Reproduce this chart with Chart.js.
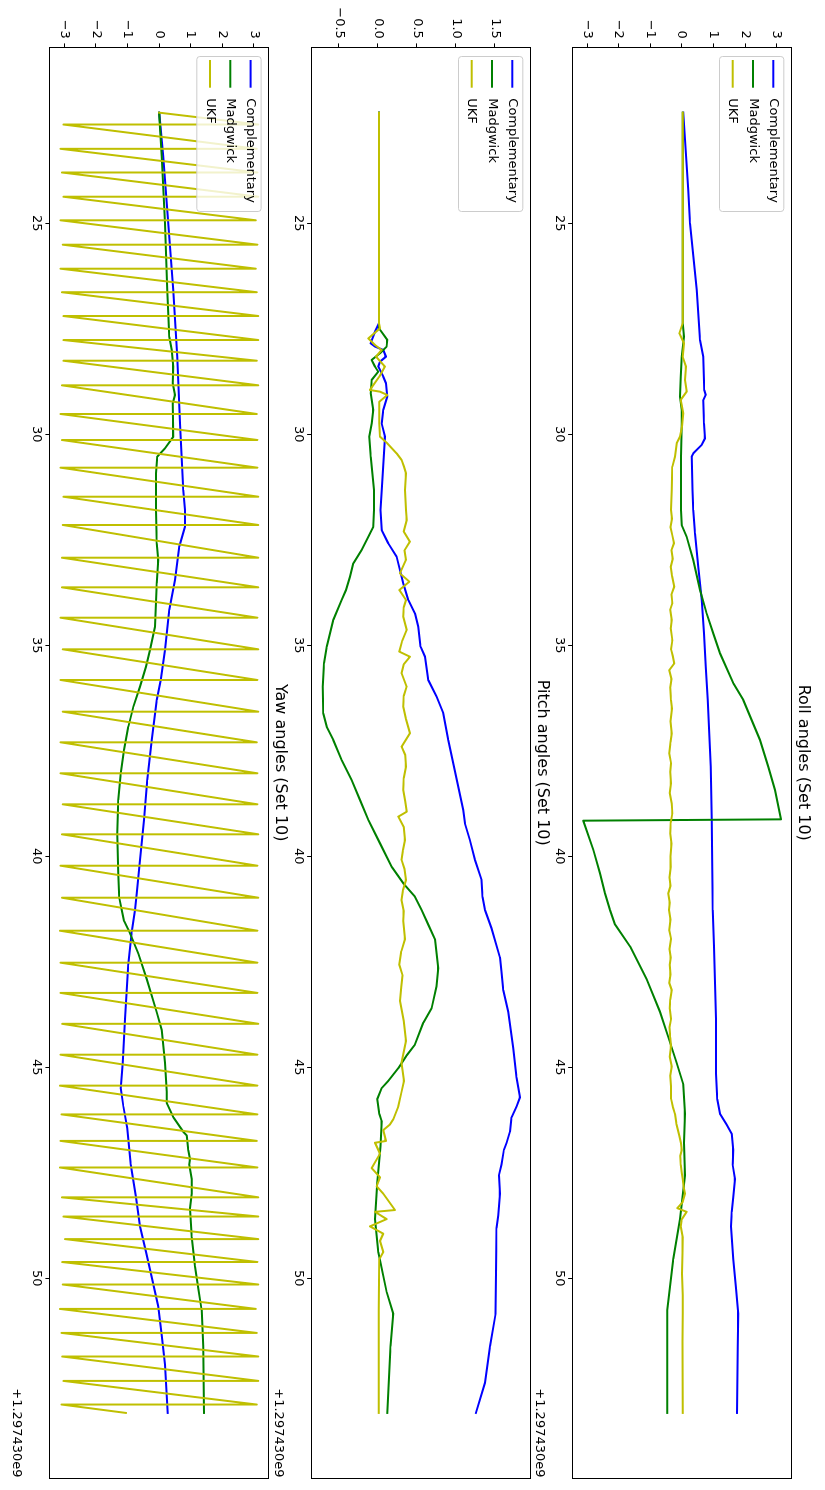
<!DOCTYPE html>
<html>
<head>
<meta charset="utf-8">
<title>Roll / Pitch / Yaw angles (Set 10)</title>
<script src="https://cdn.jsdelivr.net/npm/chart.js@4.4.1/dist/chart.umd.min.js"></script>
<style>
  html, body { margin: 0; padding: 0; background: #fff; }
  body { width: 825px; height: 1490px; overflow: hidden; position: relative; }
  /* the figure is laid out landscape and turned a quarter turn clockwise */
  #fig {
    position: absolute; left: 0; top: 0;
    width: 1490px; height: 825px;
    transform-origin: 0 0;
    transform: translate(825px, 0) rotate(90deg);
    background: #fff;
  }
  #fig canvas { position: absolute; left: 0; }
</style>
</head>
<body>
<div id="fig">
  <canvas id="roll"></canvas>
  <canvas id="pitch"></canvas>
  <canvas id="yaw"></canvas>
</div>
<script>
// ---------------- data (time in s, relative to 1.297430e9) ----------------
const seriesNames = ['Complementary', 'Madgwick', 'UKF'];
const xTicks = [25, 30, 35, 40, 45, 50];
const angleTicks = [-3, -2, -1, 0, 1, 2, 3];
const pitchTicks = [-0.5, 0, 0.5, 1, 1.5];
const timeOffsetLabel = '+1.297430e9';

// Roll
const rollCompT = [22.378, 24.211, 25.0, 26.58, 27.765, 28.16, 28.95, 29.069, 29.187, 29.74, 30.095, 30.253, 30.451, 30.53, 31.32, 31.794, 32.347, 33.137, 33.927, 34.717, 35.506, 36.296, 37.086, 37.876, 39.14, 40.246, 41.273, 42.135, 42.996, 43.858, 45.151, 45.754, 46.098, 46.357, 46.572, 46.96, 47.305, 47.649, 48.08, 48.425, 48.77, 49.545, 50.235, 50.838, 51.613, 53.19];
const rollCompV = [0.047, 0.205, 0.258, 0.469, 0.574, 0.68, 0.712, 0.754, 0.68, 0.701, 0.733, 0.627, 0.363, 0.311, 0.34, 0.363, 0.416, 0.522, 0.627, 0.701, 0.754, 0.817, 0.87, 0.912, 0.944, 0.965, 0.975, 1.017, 1.049, 1.081, 1.081, 1.123, 1.207, 1.418, 1.577, 1.629, 1.608, 1.682, 1.629, 1.577, 1.555, 1.629, 1.714, 1.788, 1.767, 1.746];

const rollMadgT = [22.378, 27.37, 27.686, 28.16, 28.634, 29.108, 29.424, 29.74, 30.53, 31.32, 31.794, 32.149, 32.426, 32.979, 33.69, 34.243, 34.717, 35.19, 35.901, 36.296, 37.244, 37.876, 38.429, 39.124, 39.156, 39.851, 40.404, 40.878, 41.273, 41.618, 42.135, 42.91, 43.686, 44.289, 44.892, 45.409, 46.098, 46.788, 47.563, 48.597, 49.545, 50.752, 53.19];
const rollMadgV = [0.026, 0.026, 0.068, -0.006, -0.037, -0.059, -0.006, -0.006, -0.027, -0.027, -0.027, -0.006, 0.152, 0.363, 0.574, 0.785, 0.996, 1.207, 1.629, 1.945, 2.473, 2.737, 2.948, 3.14, -3.12, -2.801, -2.59, -2.432, -2.273, -2.115, -1.641, -1.113, -0.691, -0.428, -0.164, 0.047, 0.1, 0.068, 0.1, -0.059, -0.27, -0.459, -0.459];

const rollUkfT = [22.378, 27.37, 27.607, 27.844, 28.16, 28.397, 28.713, 28.99, 29.187, 29.503, 29.819, 30.056, 30.214, 30.53, 30.767, 31.32, 31.79, 32.0, 32.2, 32.4, 32.58, 32.75, 32.95, 33.14, 33.35, 33.61, 33.8, 34.0, 34.16, 34.4, 34.6, 34.88, 35.1, 35.25, 35.43, 35.59, 35.8, 36.0, 36.3, 36.5, 36.8, 37.09, 37.3, 37.56, 37.8, 38.0, 38.27, 38.5, 38.75, 38.98, 39.2, 39.46, 39.7, 40.0, 40.25, 40.5, 40.7, 40.88, 41.1, 41.27, 41.5, 41.75, 41.96, 42.2, 42.4, 42.57, 42.8, 43.0, 43.17, 43.4, 43.6, 43.85, 44.05, 44.29, 44.5, 44.75, 44.98, 45.2, 45.45, 45.75, 45.95, 46.1, 46.35, 46.615, 46.8, 46.96, 47.1, 47.305, 47.5, 47.649, 47.85, 47.994, 48.2, 48.339, 48.425, 48.6, 48.77, 49.028, 49.4, 49.89, 50.4, 50.838, 51.5, 53.19];
const rollUkfV = [0.026, 0.026, -0.08, 0.068, 0.026, 0.131, 0.1, 0.152, -0.037, 0.047, 0.005, -0.059, -0.164, -0.217, -0.301, -0.322, -0.34, -0.31, -0.36, -0.3, -0.25, -0.33, -0.29, -0.35, -0.31, -0.24, -0.33, -0.3, -0.37, -0.32, -0.35, -0.3, -0.34, -0.29, -0.24, -0.4, -0.33, -0.37, -0.34, -0.31, -0.36, -0.32, -0.36, -0.4, -0.34, -0.37, -0.34, -0.38, -0.32, -0.3, -0.35, -0.37, -0.33, -0.36, -0.35, -0.39, -0.36, -0.43, -0.38, -0.41, -0.36, -0.4, -0.34, -0.39, -0.35, -0.38, -0.36, -0.4, -0.32, -0.37, -0.38, -0.34, -0.39, -0.37, -0.34, -0.38, -0.32, -0.37, -0.34, -0.34, -0.28, -0.22, -0.17, -0.08, -0.03, -0.006, -0.05, -0.037, 0.0, 0.026, 0.06, 0.1, 0.02, -0.143, 0.152, 0.0, -0.037, 0.026, 0.02, 0.005, 0.03, 0.026, 0.02, 0.026];

// Pitch
const pitchCompT = [22.378, 27.37, 27.568, 27.844, 27.923, 28.002, 28.16, 28.279, 28.397, 28.634, 28.792, 29.108, 29.424, 29.74, 30.056, 31.32, 31.794, 32.268, 32.584, 32.9, 33.532, 33.927, 34.243, 34.559, 35.033, 35.27, 35.822, 36.217, 36.612, 37.244, 37.797, 38.35, 38.903, 39.219, 39.614, 40.088, 40.562, 40.957, 41.273, 41.704, 42.393, 42.738, 43.169, 43.686, 44.547, 45.237, 45.711, 45.926, 46.185, 46.529, 46.788, 46.96, 47.305, 47.563, 47.994, 48.511, 48.813, 49.89, 50.838, 51.613, 52.475, 53.19];
const pitchCompV = [0.013, 0.013, -0.038, -0.094, -0.038, 0.068, 0.103, 0.026, 0.004, 0.068, 0.103, 0.12, 0.068, 0.047, 0.09, 0.047, 0.034, 0.047, 0.132, 0.239, 0.325, 0.389, 0.474, 0.517, 0.547, 0.603, 0.645, 0.752, 0.838, 0.902, 0.966, 1.03, 1.094, 1.115, 1.179, 1.244, 1.329, 1.342, 1.372, 1.457, 1.564, 1.585, 1.607, 1.671, 1.735, 1.778, 1.821, 1.778, 1.714, 1.692, 1.65, 1.615, 1.585, 1.551, 1.564, 1.543, 1.521, 1.513, 1.509, 1.436, 1.372, 1.256];

const pitchMadgT = [22.378, 27.489, 27.765, 27.923, 28.081, 28.239, 28.397, 28.516, 28.713, 29.029, 29.424, 29.74, 30.056, 30.53, 31.32, 31.794, 32.189, 32.426, 32.742, 33.058, 33.374, 33.69, 33.927, 34.401, 34.717, 35.033, 35.427, 35.98, 36.612, 36.928, 37.244, 37.718, 38.192, 38.666, 39.14, 39.693, 40.246, 40.641, 40.957, 41.273, 41.618, 41.962, 42.652, 43.083, 43.6, 43.944, 44.461, 44.72, 45.021, 45.323, 45.495, 45.754, 46.098, 46.271, 46.874, 47.736, 48.597, 49.373, 50.321, 50.838, 51.613, 53.19];
const pitchMadgV = [0.013, 0.013, 0.12, 0.111, 0.026, -0.081, -0.038, 0.004, -0.081, -0.094, -0.06, -0.081, -0.111, -0.094, -0.051, -0.051, -0.06, -0.124, -0.209, -0.316, -0.359, -0.41, -0.466, -0.573, -0.615, -0.658, -0.692, -0.709, -0.701, -0.658, -0.573, -0.466, -0.338, -0.231, -0.124, 0.026, 0.175, 0.325, 0.474, 0.56, 0.645, 0.731, 0.774, 0.752, 0.688, 0.581, 0.474, 0.368, 0.261, 0.132, 0.047, -0.009, 0.017, 0.047, 0.034, -0.009, -0.038, 0.004, 0.111, 0.197, 0.162, 0.12];

const pitchUkfT = [22.378, 27.37, 27.489, 27.726, 27.884, 28.002, 28.16, 28.397, 28.634, 28.95, 28.99, 29.069, 29.227, 29.74, 30.056, 30.214, 30.451, 30.609, 30.767, 30.925, 31.32, 31.794, 32.031, 32.3, 32.544, 32.75, 32.979, 33.295, 33.492, 33.69, 33.927, 34.1, 34.322, 34.638, 34.9, 35.151, 35.27, 35.45, 35.664, 35.98, 36.2, 36.454, 36.75, 37.086, 37.402, 37.6, 37.876, 38.15, 38.429, 38.7, 38.943, 39.061, 39.3, 39.614, 39.85, 40.088, 40.3, 40.562, 40.8, 41.036, 41.3, 41.532, 41.962, 42.25, 42.566, 42.824, 43.1, 43.427, 43.9, 44.375, 44.892, 45.323, 45.6, 45.926, 46.228, 46.357, 46.486, 46.745, 46.788, 47.046, 47.391, 47.606, 47.822, 47.994, 48.382, 48.425, 48.597, 48.77, 48.942, 49.114, 49.373, 49.545, 50.1, 50.752, 53.19];
const pitchUkfV = [0.013, 0.013, 0.026, -0.124, -0.038, 0.047, -0.026, 0.09, 0.017, -0.103, 0.026, 0.12, 0.017, 0.017, 0.026, 0.12, 0.239, 0.303, 0.333, 0.359, 0.346, 0.359, 0.368, 0.33, 0.41, 0.34, 0.359, 0.282, 0.402, 0.274, 0.359, 0.33, 0.325, 0.368, 0.31, 0.274, 0.41, 0.33, 0.303, 0.368, 0.33, 0.325, 0.36, 0.41, 0.303, 0.35, 0.359, 0.33, 0.325, 0.35, 0.368, 0.261, 0.33, 0.346, 0.32, 0.303, 0.34, 0.359, 0.32, 0.303, 0.33, 0.325, 0.346, 0.3, 0.274, 0.316, 0.3, 0.282, 0.33, 0.359, 0.303, 0.333, 0.3, 0.261, 0.197, 0.154, 0.068, 0.103, -0.038, 0.026, -0.081, 0.026, -0.017, 0.068, 0.218, -0.038, 0.111, -0.103, 0.068, 0.026, 0.068, 0.017, 0.012, 0.009, 0.009];

// Yaw
const yawCompT = [22.378, 23.421, 25.0, 26.58, 28.16, 29.74, 31.32, 31.794, 32.189, 32.663, 33.453, 34.164, 35.111, 35.822, 36.296, 37.244, 38.192, 39.14, 40.088, 40.878, 41.273, 41.79, 42.566, 43.858, 44.892, 45.495, 45.926, 46.443, 47.305, 48.08, 48.77, 49.373, 49.976, 50.666, 51.355, 52.044, 53.19];
const yawCompV = [0.0, 0.132, 0.29, 0.449, 0.575, 0.66, 0.765, 0.818, 0.818, 0.639, 0.502, 0.322, 0.185, 0.048, -0.079, -0.237, -0.374, -0.479, -0.606, -0.711, -0.764, -0.87, -0.975, -1.081, -1.154, -1.218, -1.133, -1.007, -0.901, -0.733, -0.606, -0.416, -0.237, -0.026, 0.08, 0.185, 0.269];

const yawMadgT = [22.378, 23.421, 25.0, 26.58, 27.686, 28.002, 28.397, 28.792, 29.069, 29.266, 30.056, 30.332, 30.53, 30.925, 31.32, 31.794, 32.584, 32.979, 33.532, 34.559, 35.111, 35.506, 35.98, 36.454, 36.928, 37.481, 38.034, 38.666, 39.456, 40.404, 40.996, 41.273, 41.532, 41.79, 42.307, 42.91, 43.686, 44.117, 44.892, 45.581, 45.84, 46.185, 46.529, 46.615, 46.96, 47.175, 47.305, 47.649, 47.994, 48.339, 49.028, 49.718, 50.235, 50.752, 51.613, 53.19];
const yawMadgV = [0.0, 0.08, 0.185, 0.259, 0.322, 0.396, 0.449, 0.428, 0.502, 0.428, 0.449, 0.185, -0.058, -0.1, -0.1, -0.1, -0.079, -0.026, -0.079, -0.131, -0.29, -0.416, -0.606, -0.817, -0.975, -1.112, -1.218, -1.292, -1.323, -1.292, -1.26, -1.186, -1.112, -0.943, -0.659, -0.395, -0.079, 0.08, 0.185, 0.238, 0.238, 0.449, 0.765, 0.871, 0.924, 0.976, 0.955, 1.029, 1.029, 0.976, 1.029, 1.134, 1.24, 1.345, 1.398, 1.419];

// UKF yaw wraps at +/-pi: time of each wrap, value just before and just after it
const yawUkfStart = [22.378, 0.0];
const yawUkfEnd = [53.19, -1.05];
const yawUkfWrapT = [22.659, 23.235, 23.796, 24.37, 24.929, 25.507, 26.076, 26.633, 27.197, 27.766, 28.256, 28.839, 29.519, 30.135, 30.791, 31.479, 32.149, 32.924, 33.626, 34.346, 35.095, 35.822, 36.573, 37.299, 38.033, 38.768, 39.479, 40.223, 40.981, 41.763, 42.521, 43.237, 43.969, 44.701, 45.434, 46.116, 46.744, 47.374, 48.081, 48.536, 49.071, 49.614, 50.147, 50.725, 51.294, 51.853, 52.431, 52.991];
const yawUkfPeak = [3.14, 3.09, 3.11, 3.14, 3.06, 3.11, 3.06, 3.09, 3.14, 3.14, 3.09, 3.14, 3.09, 3.11, 3.11, 3.14, 3.14, 3.14, 3.14, 3.11, 3.14, 3.11, 3.14, 3.09, 3.11, 3.11, 3.14, 3.11, 3.14, 3.11, 3.11, 3.11, 3.14, 3.11, 3.11, 3.11, 3.09, 3.11, 3.14, 3.14, 3.14, 3.11, 3.14, 3.06, 3.09, 3.14, 3.14, 3.09];
const yawUkfTrough = [-3.03, -3.12, -3.08, -3.03, -3.12, -3.05, -3.12, -3.08, -3.03, -3.03, -3.03, -3.08, -3.12, -3.08, -3.12, -3.03, -3.05, -3.08, -3.08, -3.12, -3.05, -3.12, -3.05, -3.12, -3.12, -3.05, -3.08, -3.12, -3.08, -3.14, -3.12, -3.12, -3.07, -3.12, -3.14, -3.09, -3.12, -3.14, -3.08, -3.03, -2.98, -3.07, -3.05, -3.14, -3.09, -3.07, -3.03, -3.09];

// ---------------- layout of the landscape figure ----------------
const PLOT_LEFT = 48, PLOT_RIGHT = 1477.5, FIG_W = 1490, CANVAS_H = 294;
const X_MIN = 20.846, X_MAX = 54.72;
const COLORS = ['#0000ff', '#008000', '#bfbf00'];
const FONT = '"DejaVu Sans", Verdana, sans-serif';

function zip(t, v) { return t.map((x, i) => ({ x: x, y: v[i] })); }
function wrapped(start, wrapT, peaks, troughs, end) {
  const pts = [{ x: start[0], y: start[1] }];
  wrapT.forEach((t, i) => { pts.push({ x: t, y: peaks[i] }); pts.push({ x: t, y: troughs[i] }); });
  pts.push({ x: end[0], y: end[1] });
  return pts;
}
const minus = s => s.replace('-', '\u2212');

// frame, title, legend and offset label drawn the way the original plotting tool lays them out
const mplDecor = {
  id: 'mplDecor',
  afterDatasetsDraw(chart, args, opts) {
    const { ctx, chartArea: a } = chart;
    ctx.save();
    // axes frame
    ctx.strokeStyle = '#000';
    ctx.lineWidth = 1;
    const L = Math.round(a.left) - 0.5, R = Math.round(a.right) + 0.5;
    const T = Math.round(a.top) - 0.5, B = Math.round(a.bottom) + 0.5;
    ctx.strokeRect(L, T, R - L, B - T);

    // legend (upper left, inside axes)
    const lx = a.left + 8, ly = a.top + 6.7, lw = 155, lh = 64.3;
    ctx.beginPath();
    ctx.roundRect(lx + 0.5, ly + 0.5, lw, lh, 3);
    ctx.fillStyle = 'rgba(255,255,255,0.8)';
    ctx.fill();
    ctx.strokeStyle = '#cccccc';
    ctx.lineWidth = 1;
    ctx.stroke();
    ctx.font = '13px ' + FONT;
    ctx.textAlign = 'left';
    ctx.textBaseline = 'middle';
    chart.data.datasets.forEach((ds, i) => {
      const y = a.top + 17.7 + i * 20.3;
      ctx.strokeStyle = ds.borderColor;
      ctx.lineWidth = 2;
      ctx.beginPath();
      ctx.moveTo(a.left + 12, y);
      ctx.lineTo(a.left + 39.7, y);
      ctx.stroke();
      ctx.fillStyle = '#000';
      ctx.fillText(ds.label, a.left + 50.3, y);
    });

    // title
    ctx.fillStyle = '#000';
    ctx.font = '16px ' + FONT;
    ctx.textAlign = 'center';
    ctx.textBaseline = 'alphabetic';
    ctx.fillText(opts.title, (a.left + a.right) / 2, a.top - 7.8);

    // x offset label
    ctx.font = '13px ' + FONT;
    ctx.textAlign = 'right';
    ctx.fillText(opts.offset, a.right, a.bottom + 36.5);
    ctx.restore();
  }
};

function makePanel(id, title, top, bottom, series, yMin, yMax, yTicks, yFmt) {
  const canvasTop = Math.floor(top) - 30;
  const padTop = top - canvasTop;
  const xAxisH = canvasTop + CANVAS_H - bottom;
  const el = document.getElementById(id);
  el.style.top = canvasTop + 'px';
  el.width = FIG_W;
  el.height = CANVAS_H;

  const tickFont = { family: FONT, size: 13 };
  const gridOpts = { display: true, drawOnChartArea: false, drawTicks: true, tickLength: 4.6, color: '#000', lineWidth: 1 };

  return new Chart(el, {
    type: 'line',
    data: {
      datasets: series.map((pts, i) => ({
        label: seriesNames[i],
        data: pts,
        borderColor: COLORS[i],
        backgroundColor: COLORS[i],
        borderWidth: 2,
        pointRadius: 0,
        tension: 0,
        fill: false,
        borderJoinStyle: 'round',
        borderCapStyle: 'square',
        order: 3 - i
      }))
    },
    options: {
      responsive: false,
      animation: false,
      devicePixelRatio: 1,
      events: [],
      parsing: false,
      normalized: true,
      layout: { autoPadding: false, padding: { top: padTop, left: 0, right: FIG_W - PLOT_RIGHT, bottom: 0 } },
      scales: {
        x: {
          type: 'linear',
          min: X_MIN, max: X_MAX,
          afterBuildTicks: s => { s.ticks = xTicks.map(v => ({ value: v })); },
          afterFit: s => { s.height = xAxisH; },
          ticks: { font: tickFont, color: '#000', padding: 1, maxRotation: 0, autoSkip: false, callback: v => String(v) },
          grid: gridOpts,
          border: { display: false }
        },
        y: {
          type: 'linear',
          min: yMin, max: yMax,
          afterBuildTicks: s => { s.ticks = yTicks.map(v => ({ value: v })); },
          afterFit: s => { s.width = PLOT_LEFT; },
          ticks: { font: tickFont, color: '#000', padding: 4.6, autoSkip: false, callback: yFmt },
          grid: gridOpts,
          border: { display: false }
        }
      },
      plugins: {
        legend: { display: false },
        title: { display: false },
        tooltip: { enabled: false },
        mplDecor: { title: title, offset: timeOffsetLabel }
      }
    },
    plugins: [mplDecor]
  });
}

const intFmt = v => minus(String(v));
const oneDecFmt = v => minus(Number(v).toFixed(1));

makePanel('roll', 'Roll angles (Set 10)', 34, 252.3,
  [zip(rollCompT, rollCompV), zip(rollMadgT, rollMadgV), zip(rollUkfT, rollUkfV)],
  -3.456, 3.456, angleTicks, intFmt);

makePanel('pitch', 'Pitch angles (Set 10)', 295, 513.3,
  [zip(pitchCompT, pitchCompV), zip(pitchMadgT, pitchMadgV), zip(pitchUkfT, pitchUkfV)],
  -0.85, 1.95, pitchTicks, oneDecFmt);

makePanel('yaw', 'Yaw angles (Set 10)', 556.7, 775,
  [zip(yawCompT, yawCompV), zip(yawMadgT, yawMadgV),
   wrapped(yawUkfStart, yawUkfWrapT, yawUkfPeak, yawUkfTrough, yawUkfEnd)],
  -3.456, 3.456, angleTicks, intFmt);
</script>
</body>
</html>
